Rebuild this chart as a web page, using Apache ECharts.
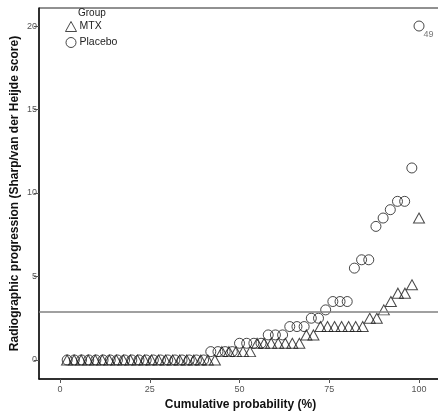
<!DOCTYPE html>
<html>
<head>
<meta charset="utf-8">
<script src="https://cdn.jsdelivr.net/npm/echarts@6/dist/echarts.min.js"></script>
<style>html,body{margin:0;padding:0;background:#fff;}#c{width:438px;height:413px;}</style>
</head>
<body>
<div id="c"></div>
<script>
// Cumulative probability (%) for each group
var placeboX = [2,4,6,8,10,12,14,16,18,20,22,24,26,28,30,32,34,36,38,40,42,44,46,48,50,52,54,56,58,60,62,64,66,68,70,72,74,76,78,80,82,84,86,88,90,92,94,96,98,100];
var placeboY = [0,0,0,0,0,0,0,0,0,0,0,0,0,0,0,0,0,0,0,0,0.5,0.5,0.5,0.5,1,1,1,1,1.5,1.5,1.5,2,2,2,2.5,2.5,3,3.5,3.5,3.5,5.5,6,6,8,8.5,9,9.5,9.5,11.5,20];
var mtxX = [1.96,3.92,5.88,7.84,9.80,11.76,13.73,15.69,17.65,19.61,21.57,23.53,25.49,27.45,29.41,31.37,33.33,35.29,37.25,39.22,41.18,43.14,45.10,47.06,49.02,50.98,52.94,54.90,56.86,58.82,60.78,62.75,64.71,66.67,68.63,70.59,72.55,74.51,76.47,78.43,80.39,82.35,84.31,86.27,88.24,90.20,92.16,94.12,96.08,98.04,100];
var mtxY = [0,0,0,0,0,0,0,0,0,0,0,0,0,0,0,0,0,0,0,0,0,0,0.5,0.5,0.5,0.5,0.5,1,1,1,1,1,1,1,1.5,1.5,2,2,2,2,2,2,2,2.5,2.5,3,3.5,4,4,4.5,8.5];
var referenceLine = 2.9;
var xTicks = [0,25,50,75,100];
var yTicks = [0,5,10,15,20];
var labelledPointIndex = 49;
var labelledPointText = '49';

function pairs(xs, ys){ return xs.map(function(x,i){ return [x, ys[i]]; }); }

var font = '"Liberation Sans", Arial, sans-serif';
var chart = echarts.init(document.getElementById('c'), null, {renderer:'canvas'});
var placeboData = pairs(placeboX, placeboY).map(function(p,i){
  if(i === labelledPointIndex){
    return {value:p, label:{show:true, formatter:labelledPointText, position:'right', offset:[-6,8], fontSize:9, color:'#555', fontFamily:font}};
  }
  return p;
});
chart.setOption({
  animation:false,
  backgroundColor:'#fff',
  grid:{left:39, right:-4, top:8, bottom:34, containLabel:false, outerBoundsMode:'none', show:true, borderColor:'#222', borderWidth:1, backgroundColor:'transparent'},
  xAxis:{
    type:'value', min:-5.85, max:106.4,
    name:'Cumulative probability (%)', nameLocation:'middle', nameGap:20, nameMoveOverlap:false,
    nameTextStyle:{fontSize:12, fontWeight:'bold', color:'#111', fontFamily:font},
    axisLine:{show:true, onZero:false, lineStyle:{color:'#111', width:1.5}},
    axisTick:{show:true, customValues:xTicks, length:4, lineStyle:{color:'#555'}},
    axisLabel:{customValues:xTicks, fontSize:9, color:'#555', margin:6, fontFamily:font},
    splitLine:{show:false}
  },
  yAxis:{
    type:'value', min:-1.14, max:21.08,
    name:'Radiographic progression (Sharp/van der Heijde score)', nameLocation:'middle', nameGap:18, nameMoveOverlap:false,
    nameTextStyle:{fontSize:12, fontWeight:'bold', color:'#111', fontFamily:font},
    axisLine:{show:true, onZero:false, lineStyle:{color:'#111', width:1.5}},
    axisTick:{show:true, customValues:yTicks, length:5, lineStyle:{color:'#555'}},
    axisLabel:{customValues:yTicks, fontSize:9, color:'#555', margin:2, fontFamily:font},
    splitLine:{show:false}
  },
  legend:{
    orient:'vertical', left:65, top:21, padding:0, itemWidth:11, itemHeight:10, itemGap:5,
    itemStyle:{borderWidth:1},
    textStyle:{fontSize:10.5, color:'#222', fontFamily:font, padding:[0,0,0,-2]},
    data:['MTX','Placebo']
  },
  graphic:[{type:'text', left:78, top:8, style:{text:'Group', fontSize:10, fill:'#222', fontFamily:font}}],
  series:[
    {
      name:'MTX', type:'scatter', symbol:'triangle', symbolSize:[11,10],
      itemStyle:{color:'rgba(255,255,255,0)', borderColor:'#1a1a1a', borderWidth:1},
      data:pairs(mtxX, mtxY),
      markLine:{silent:true, symbol:'none', label:{show:false}, lineStyle:{color:'#808080', width:1.5, type:'solid'}, data:[{yAxis:referenceLine}]}
    },
    {
      name:'Placebo', type:'scatter', symbol:'circle', symbolSize:10,
      itemStyle:{color:'rgba(255,255,255,0)', borderColor:'#1a1a1a', borderWidth:1},
      data:placeboData
    }
  ]
});
</script>
</body>
</html>
